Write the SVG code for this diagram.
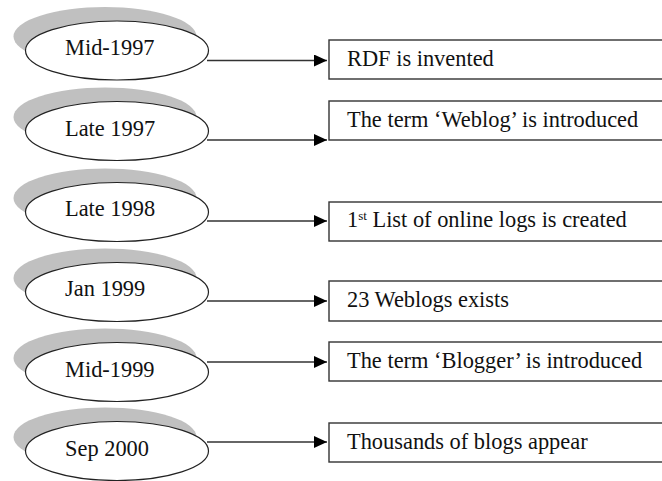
<svg xmlns="http://www.w3.org/2000/svg" width="662" height="481" viewBox="0 0 662 481">
<defs>
<style>
.shadow{fill:#c0c0c0;stroke:none}
.oval{fill:#fff;stroke:#222;stroke-width:1.2}
.box{fill:#fff;stroke:#333;stroke-width:1.4}
.lbl{font-family:"Liberation Serif","Times New Roman",serif;font-size:22.4px;fill:#111}
.conn{stroke:#333;stroke-width:1.5;fill:none}
</style>
<marker id="arr" viewBox="0 0 13 12" refX="13" refY="6" markerWidth="13" markerHeight="12" markerUnits="userSpaceOnUse" orient="auto">
<path d="M0,0 L13,6 L0,12 Z" fill="#000"/>
</marker>
</defs>
<rect width="662" height="481" fill="#fff"/>

<g id="date1">
<ellipse class="shadow" cx="105" cy="36.5" rx="91.5" ry="29.5"/>
<ellipse class="oval" cx="117" cy="50.5" rx="91.5" ry="29.5"/>
<text class="lbl" x="65" y="55">Mid-1997</text>
</g>
<g id="date2">
<ellipse class="shadow" cx="105" cy="117" rx="91.5" ry="29.5"/>
<ellipse class="oval" cx="117" cy="131" rx="91.5" ry="29.5"/>
<text class="lbl" x="65" y="135.5">Late 1997</text>
</g>
<g id="date3">
<ellipse class="shadow" cx="105" cy="198" rx="91.5" ry="29.5"/>
<ellipse class="oval" cx="117" cy="212" rx="91.5" ry="29.5"/>
<text class="lbl" x="65" y="216">Late 1998</text>
</g>
<g id="date4">
<ellipse class="shadow" cx="105" cy="278" rx="91.5" ry="29.5"/>
<ellipse class="oval" cx="117" cy="292" rx="91.5" ry="29.5"/>
<text class="lbl" x="65" y="296">Jan 1999</text>
</g>
<g id="date5">
<ellipse class="shadow" cx="105" cy="358" rx="91.5" ry="29.5"/>
<ellipse class="oval" cx="117" cy="372" rx="91.5" ry="29.5"/>
<text class="lbl" x="65" y="376.5">Mid-1999</text>
</g>
<g id="date6">
<ellipse class="shadow" cx="105" cy="437" rx="91.5" ry="29.5"/>
<ellipse class="oval" cx="117" cy="451" rx="91.5" ry="29.5"/>
<text class="lbl" x="65" y="456">Sep 2000</text>
</g>

<g id="event1">
<rect class="box" x="329" y="40" width="340" height="39"/>
<text class="lbl" x="347" y="65.5">RDF is invented</text>
</g>
<g id="event2">
<rect class="box" x="329" y="101" width="340" height="39"/>
<text class="lbl" x="347" y="127">The term ‘Weblog’ is introduced</text>
</g>
<g id="event3">
<rect class="box" x="329" y="202" width="340" height="39"/>
<text class="lbl" x="347" y="227">1<tspan font-size="13" dy="-7">st</tspan><tspan dy="7"> List of online logs is created</tspan></text>
</g>
<g id="event4">
<rect class="box" x="329" y="281" width="340" height="40"/>
<text class="lbl" x="347" y="307">23 Weblogs exists</text>
</g>
<g id="event5">
<rect class="box" x="329" y="342" width="340" height="39"/>
<text class="lbl" x="347" y="367.5">The term ‘Blogger’ is introduced</text>
</g>
<g id="event6">
<rect class="box" x="329" y="423" width="340" height="39"/>
<text class="lbl" x="347" y="448.5">Thousands of blogs appear</text>
</g>

<g id="connectors">
<line class="conn" x1="207" y1="60.5" x2="327" y2="60.5" marker-end="url(#arr)"/>
<line class="conn" x1="207" y1="140" x2="327" y2="140" marker-end="url(#arr)"/>
<line class="conn" x1="207" y1="221" x2="327" y2="221" marker-end="url(#arr)"/>
<line class="conn" x1="207" y1="301" x2="327" y2="301" marker-end="url(#arr)"/>
<line class="conn" x1="207" y1="362" x2="327" y2="362" marker-end="url(#arr)"/>
<line class="conn" x1="207" y1="442" x2="327" y2="442" marker-end="url(#arr)"/>
</g>
</svg>
